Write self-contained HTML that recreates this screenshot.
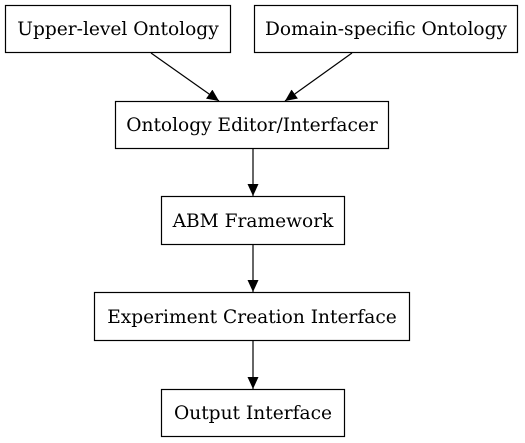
<!DOCTYPE html>
<html><head><meta charset="utf-8"><style>
html,body{margin:0;padding:0;background:#fff;}
svg{display:block;}
text{font-family:"DejaVu Serif","Liberation Serif",serif;font-size:18.6px;fill:#000;}
</style></head><body>
<svg width="525" height="443" viewBox="0 0 525 443" xmlns="http://www.w3.org/2000/svg">
<defs><marker id="a" markerWidth="12" markerHeight="12" refX="12" refY="5.5" orient="auto" markerUnits="userSpaceOnUse"><path d="M0,0 L12,5.5 L0,11 z" fill="#000"/></marker></defs>
<g fill="none" stroke="#000" stroke-width="1.2">
<rect x="5.5" y="5.5" width="225" height="47"/>
<rect x="254.5" y="5.5" width="263" height="47"/>
<rect x="115.5" y="101.5" width="273" height="47"/>
<rect x="161.5" y="196.5" width="183" height="48"/>
<rect x="94.5" y="292.5" width="315" height="48"/>
<rect x="161.5" y="389.5" width="183" height="47"/>
<line x1="151" y1="53" x2="219" y2="101" marker-end="url(#a)"/>
<line x1="352" y1="53" x2="285" y2="101" marker-end="url(#a)"/>
<line x1="253" y1="149" x2="253" y2="196" marker-end="url(#a)"/>
<line x1="253" y1="245" x2="253" y2="292" marker-end="url(#a)"/>
<line x1="253" y1="341" x2="253" y2="389" marker-end="url(#a)"/>
</g>
<g text-anchor="middle">
<text x="118" y="35">Upper-level Ontology</text>
<text x="386" y="35">Domain-specific Ontology</text>
<text x="252" y="131">Ontology Editor/Interfacer</text>
<text x="253" y="227">ABM Framework</text>
<text x="252" y="323">Experiment Creation Interface</text>
<text x="253" y="419">Output Interface</text>
</g>
</svg>
</body></html>
